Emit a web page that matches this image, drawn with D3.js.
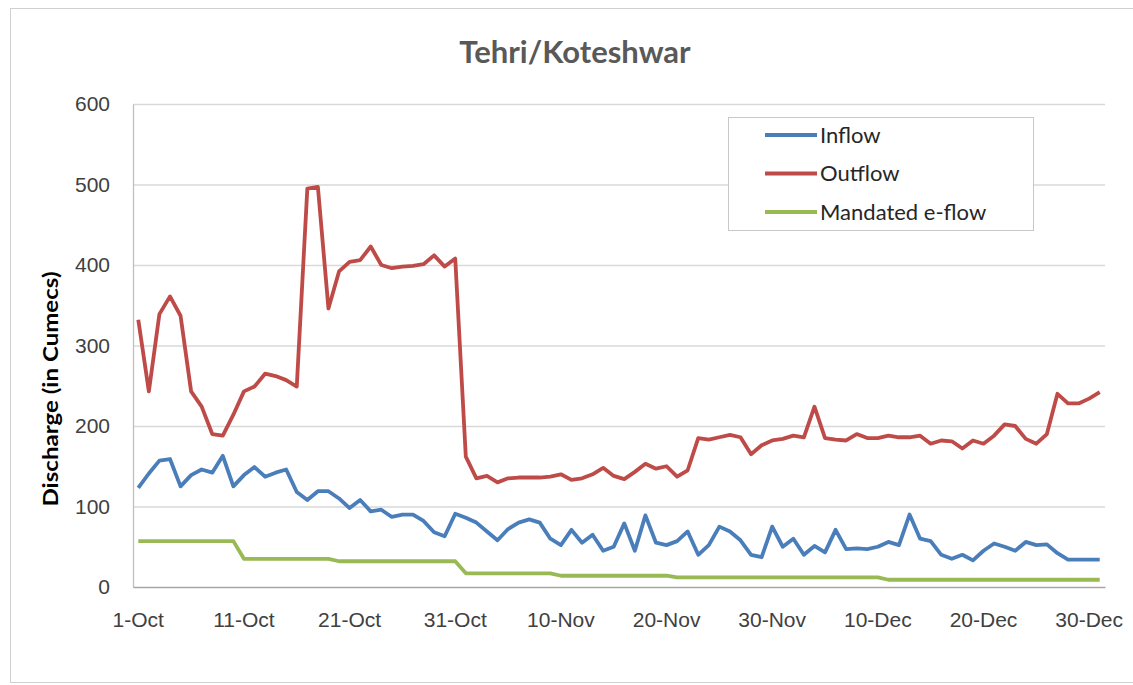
<!DOCTYPE html>
<html>
<head>
<meta charset="utf-8">
<script src="https://cdn.jsdelivr.net/npm/d3@7"></script>
<style>
  body { margin: 0; background: #fff; }
  svg { display: block; font-family: Lato, "Open Sans", sans-serif; }
  .grid line { stroke: #d9d9d9; stroke-width: 1.3; }
  .grid path { display: none; }
  .tick text { fill: #404040; font-size: 21px; }
</style>
</head>
<body>
<svg width="1133" height="685"></svg>
<script>
const BLUE = "#4a7ebb";
const RED = "#be4b48";
const GREEN = "#98b954";

// daily values, 1-Oct .. 31-Dec (92 days)
var inflow = [
  123, 141, 157, 159, 125, 139, 146, 142, 163, 125,
  139, 149, 137, 142, 146, 118, 108, 119, 119, 110,
  98, 108, 94, 96, 87, 90, 90, 82, 68, 63,
  91, 86, 80, 69, 58, 72, 80, 84, 80, 60,
  52, 71, 55, 65, 45, 50, 79, 45, 89, 55,
  52, 57, 69, 40, 52, 75, 69, 58, 40, 37,
  75, 50, 60, 40, 51, 43, 71, 47, 48, 47,
  50, 56, 52, 90, 60, 57, 40, 35, 40, 33,
  45, 54, 50, 45, 56, 52, 53, 42, 34, 34,
  34, 34
];
var outflow = [
  332, 243, 339, 361, 337, 243, 224, 190, 188, 214,
  243, 249, 265, 262, 257, 249, 495, 497, 346, 392,
  404, 406, 423, 400, 396, 398, 399, 401, 412, 398,
  408, 162, 135, 138, 130, 135, 136, 136, 136, 137,
  140, 133, 135, 140, 148, 138, 134, 143, 153, 147,
  150, 137, 145, 185, 183, 186, 189, 186, 165, 176,
  182, 184, 188, 186, 224, 185, 183, 182, 190, 185,
  185, 188, 186, 186, 188, 178, 182, 181, 172, 182,
  178, 188, 202, 200, 184, 178, 190, 240, 228, 228,
  234, 242
];
var eflow = [
  57, 57, 57, 57, 57, 57, 57, 57, 57, 57,
  35, 35, 35, 35, 35, 35, 35, 35, 35, 32,
  32, 32, 32, 32, 32, 32, 32, 32, 32, 32,
  32, 17, 17, 17, 17, 17, 17, 17, 17, 17,
  14, 14, 14, 14, 14, 14, 14, 14, 14, 14,
  14, 12, 12, 12, 12, 12, 12, 12, 12, 12,
  12, 12, 12, 12, 12, 12, 12, 12, 12, 12,
  12, 9, 9, 9, 9, 9, 9, 9, 9, 9,
  9, 9, 9, 9, 9, 9, 9, 9, 9, 9,
  9, 9
];

var seriesNames = ["Inflow", "Outflow", "Mandated e-flow"];
var seriesColors = [BLUE, RED, GREEN];
var tickLabels = ["1-Oct", "11-Oct", "21-Oct", "31-Oct", "10-Nov", "20-Nov", "30-Nov", "10-Dec", "20-Dec", "30-Dec"];
var yTicks = [0, 100, 200, 300, 400, 500, 600];

var fmt = d3.timeFormat("%-d-%b");
var days = d3.timeDay.range(new Date(2013, 9, 1), new Date(2014, 0, 1)).map(fmt);

// plot area
var m = { top: 104, right: 28, bottom: 98, left: 133 };
var W = 1133, H = 685;

var svg = d3.select("svg");

// outer chart border
svg.append("rect")
    .attr("x", 10.5).attr("y", 8.5)
    .attr("width", 1140).attr("height", 674)
    .attr("fill", "#fff")
    .attr("stroke", "#d0d0d0");

var x = d3.scaleBand()
    .domain(days)
    .range([m.left, W - m.right]);

var y = d3.scaleLinear()
    .domain([0, 600])
    .range([H - m.bottom, m.top]);

var cx = function (d) { return x(d) + x.bandwidth() / 2; };

// gridlines
svg.append("g")
    .attr("class", "grid")
    .attr("transform", `translate(${m.left},0)`)
    .call(d3.axisLeft(y).tickValues(yTicks.slice(1)).tickSize(-(W - m.right - m.left)).tickFormat(""));

// y axis labels
var yAxis = svg.append("g")
    .attr("transform", `translate(${m.left},0)`)
    .call(d3.axisLeft(y).tickValues(yTicks).tickSize(0).tickPadding(23));
yAxis.select(".domain").attr("stroke", "#bfbfbf").attr("stroke-width", 1.3);

// x axis
var xAxis = svg.append("g")
    .attr("transform", `translate(0,${H - m.bottom})`)
    .call(d3.axisBottom(x).tickValues(tickLabels).tickSize(0).tickPadding(25));
xAxis.select(".domain").attr("stroke", "#a6a6a6").attr("stroke-width", 1.5);

// lines
var line = d3.line()
    .x(function (d, i) { return cx(days[i]); })
    .y(function (d) { return y(d); });

[eflow, outflow, inflow].forEach(function (s, k) {
    svg.append("path")
        .datum(s)
        .attr("fill", "none")
        .attr("stroke", seriesColors[2 - k])
        .attr("stroke-width", 3.8)
        .attr("stroke-linejoin", "round")
        .attr("d", line);
});

// title
svg.append("text")
    .attr("x", 575).attr("y", 63)
    .attr("text-anchor", "middle")
    .attr("font-size", 31)
    .attr("font-weight", "bold")
    .attr("fill", "#595959")
    .text("Tehri/Koteshwar");

// y axis title
svg.append("text")
    .attr("transform", "translate(58,389) rotate(-90)")
    .attr("text-anchor", "middle")
    .attr("font-size", 20)
    .attr("font-weight", "bold")
    .attr("fill", "#000")
    .attr("textLength", 235)
    .attr("lengthAdjust", "spacingAndGlyphs")
    .text("Discharge (in Cumecs)");

// legend
var legend = svg.append("g").attr("transform", "translate(728,117)");
legend.append("rect")
    .attr("x", 0.5).attr("y", 0.5)
    .attr("width", 305).attr("height", 113)
    .attr("fill", "#fff")
    .attr("stroke", "#c8c8c8");

seriesNames.forEach(function (name, i) {
    var g = legend.append("g").attr("transform", `translate(0,${18 + i * 38.5})`);
    g.append("line")
        .attr("x1", 37).attr("x2", 89)
        .attr("stroke", seriesColors[i])
        .attr("stroke-width", 3.8);
    g.append("text")
        .attr("x", 92).attr("dy", "0.35em")
        .attr("font-size", 22)
        .attr("fill", "#262626")
        .text(name);
});
</script>
</body>
</html>
